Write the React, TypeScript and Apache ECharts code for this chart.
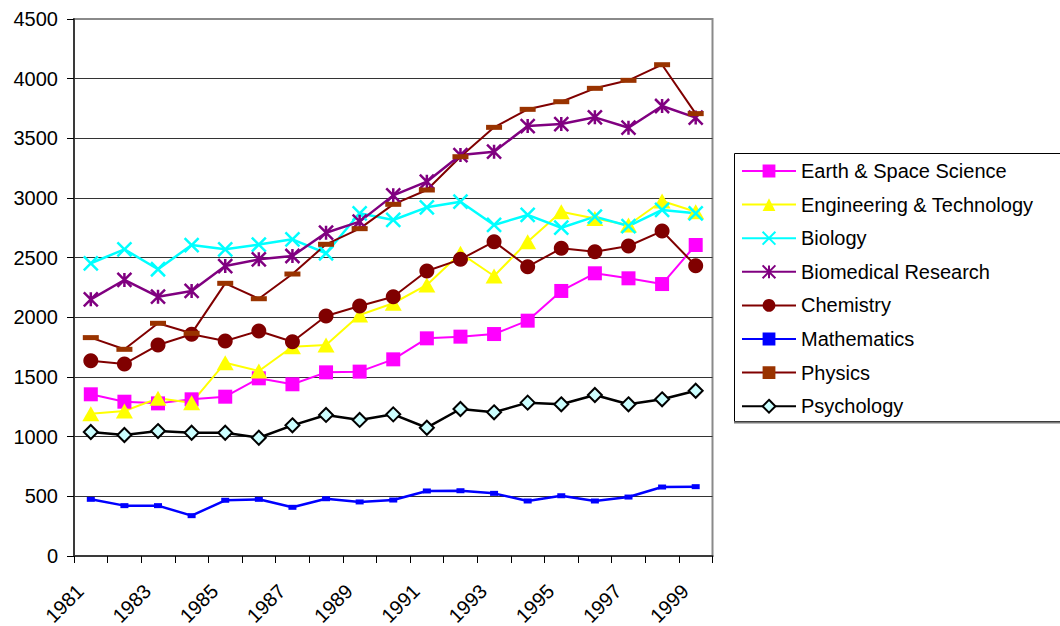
import React, { useEffect, useRef } from "react";
import * as echarts from "echarts";

const years = ["1981", "1982", "1983", "1984", "1985", "1986", "1987", "1988", "1989", "1990", "1991", "1992", "1993", "1994", "1995", "1996", "1997", "1998", "1999"];

const earthSpace = [1355, 1293, 1279, 1313, 1335, 1489, 1439, 1539, 1545, 1648, 1824, 1838, 1860, 1972, 2221, 2369, 2327, 2279, 2606];
const engineering = [1192, 1215, 1321, 1285, 1620, 1550, 1754, 1768, 2020, 2118, 2271, 2537, 2346, 2634, 2885, 2829, 2774, 2975, 2885];
const biology = [2453, 2570, 2403, 2606, 2570, 2610, 2654, 2537, 2872, 2816, 2922, 2969, 2774, 2858, 2751, 2844, 2765, 2900, 2872];
const biomedical = [2151, 2313, 2173, 2221, 2430, 2486, 2514, 2709, 2802, 3022, 3137, 3360, 3388, 3603, 3620, 3676, 3589, 3771, 3674];
const chemistry = [1637, 1609, 1768, 1858, 1802, 1886, 1796, 2011, 2095, 2173, 2388, 2486, 2634, 2424, 2578, 2550, 2598, 2723, 2433];
const mathematics = [475, 422, 422, 338, 467, 475, 408, 480, 453, 469, 545, 547, 525, 461, 505, 461, 494, 578, 581];
const physics = [1830, 1732, 1950, 1866, 2285, 2156, 2363, 2612, 2743, 2947, 3067, 3346, 3592, 3743, 3807, 3919, 3986, 4117, 3707];
const psychology = [1039, 1014, 1047, 1033, 1033, 991, 1095, 1182, 1140, 1187, 1075, 1232, 1204, 1285, 1271, 1349, 1271, 1313, 1385];

const FONT = "'Liberation Sans', Arial, sans-serif";

function mk(
  name: string,
  data: number[],
  lineColor: string,
  lineWidth: number,
  symbol: string,
  symbolSize: number | number[],
  itemStyle: any
) {
  return {
    name,
    type: "line",
    data,
    symbol,
    symbolSize,
    showSymbol: true,
    lineStyle: { color: lineColor, width: lineWidth },
    itemStyle,
    emphasis: { disabled: true },
  };
}

const option = {
  animation: false,
  backgroundColor: "#ffffff",
  textStyle: { fontFamily: FONT },
  grid: {
    left: 74,
    top: 19,
    right: 347.5,
    bottom: 70,
    containLabel: false,
    outerBoundsMode: "none",
    show: true,
    borderColor: "#8a8a8a",
    borderWidth: 2,
    backgroundColor: "transparent",
  },
  legend: {
    orient: "vertical",
    left: 741,
    top: 161,
    padding: 0,
    itemWidth: 54,
    itemHeight: 16,
    itemGap: 13.6,
    textStyle: { fontSize: 20, color: "#000", fontFamily: FONT },
    data: [
      "Earth & Space Science",
      "Engineering & Technology",
      "Biology",
      "Biomedical Research",
      "Chemistry",
      "Mathematics",
      "Physics",
      "Psychology",
    ],
  },
  graphic: [
    {
      type: "rect",
      z: -10,
      shape: { x: 734.5, y: 153.5, width: 340, height: 268 },
      style: { fill: "#fff", stroke: "#000", lineWidth: 1 },
    },
    {
      type: "line",
      z: -9,
      shape: { x1: 734, y1: 422.5, x2: 1060, y2: 422.5 },
      style: { stroke: "#7a7a7a", lineWidth: 2 },
    },
  ],
  xAxis: {
    type: "category",
    data: years,
    boundaryGap: true,
    axisLine: { lineStyle: { color: "#3a3a3a", width: 2 } },
    axisTick: { show: true, interval: 0, length: 7, lineStyle: { color: "#000", width: 1 } },
    axisLabel: {
      interval: 1,
      rotate: 45,
      margin: 21,
      padding: [0, 15, 0, 0],
      fontSize: 20,
      color: "#000",
      fontFamily: FONT,
    },
    splitLine: { show: false },
  },
  yAxis: {
    type: "value",
    min: 0,
    max: 4500,
    interval: 500,
    axisLine: { show: true, lineStyle: { color: "#3a3a3a", width: 2 } },
    axisTick: { show: true, length: 7, lineStyle: { color: "#000", width: 1 } },
    axisLabel: {
      fontSize: 20,
      color: "#000",
      margin: 16,
      fontFamily: FONT,
      formatter: (v: number) => String(v),
    },
    splitLine: { show: true, showMaxLine: false, lineStyle: { color: "#333", width: 1 } },
  },
  series: [
    mk("Earth & Space Science", earthSpace, "#ff00ff", 2, "rect", 14, { color: "#ff00ff" }),
    mk("Engineering & Technology", engineering, "#ffff00", 2, "triangle", [17, 15], { color: "#ffff00" }),
    mk("Biology", biology, "#00ffff", 2.5, "path://M0,0L10,10M10,0L0,10", 14, {
      color: "#00ffff",
      borderColor: "#00ffff",
      borderWidth: 2.5,
    }),
    mk("Biomedical Research", biomedical, "#800080", 2.5, "path://M0,0L12,12M12,0L0,12M6,0L6,12", 14, {
      color: "#800080",
      borderColor: "#800080",
      borderWidth: 2.5,
    }),
    mk("Chemistry", chemistry, "#800000", 2, "circle", 15, { color: "#800000" }),
    mk("Mathematics", mathematics, "#0000ff", 2.5, "rect", [8, 5], { color: "#0000ff" }),
    mk("Physics", physics, "#800000", 2, "rect", [16, 5], { color: "#993300" }),
    mk("Psychology", psychology, "#000000", 2.5, "diamond", 14, {
      color: "#ccffff",
      borderColor: "#000",
      borderWidth: 2,
    }),
  ],
};

export default function App() {
  const ref = useRef<HTMLDivElement>(null);
  useEffect(() => {
    const chart = echarts.init(ref.current!, null, { renderer: "svg" });
    chart.setOption(option as any);
    return () => chart.dispose();
  }, []);
  return (
    <div
      ref={ref}
      style={{ position: "fixed", left: 0, top: 0, width: 1060, height: 626, background: "#fff" }}
    />
  );
}
